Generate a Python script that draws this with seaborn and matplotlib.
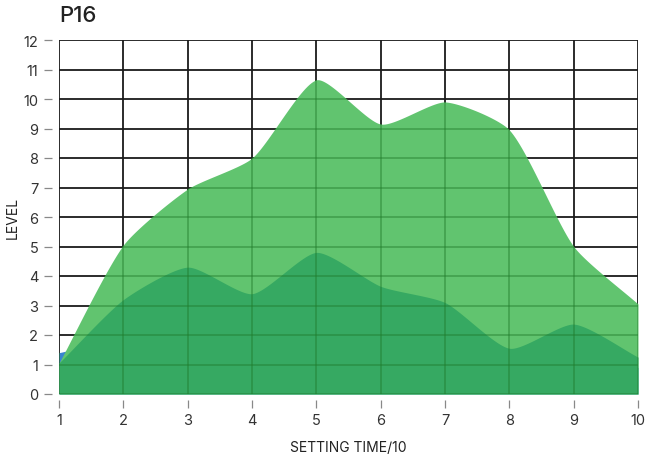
import numpy as np
import matplotlib
matplotlib.use("Agg")
import matplotlib.pyplot as plt
from matplotlib.patches import PathPatch
from matplotlib.path import Path
import seaborn as sns

# ---------------------------------------------------------------------
# data
# ---------------------------------------------------------------------
setting_time = [1, 2, 3, 4, 5, 6, 7, 8, 9, 10]
level_blue = [1.40, 1.90, 2.40, 2.30, 3.00, 2.60, 2.20, 1.00, 1.50, 0.90]
level_light = [1.05, 5.05, 6.95, 8.00, 10.65, 9.15, 9.90, 8.95, 5.00, 3.05]
level_dark = [1.05, 3.20, 4.30, 3.40, 4.80, 3.65, 3.10, 1.55, 2.37, 1.25]

series = [
    ("blue", level_blue, "#3a84cf"),
    ("light", level_light, "#61c46f"),
    ("dark", level_dark, "#36a962"),
]

PX_X, PX_Y = 64.3, 29.5   # pixels par unité (pour le lissage)


def spline_curve(x, y, tension=0.22, n=30):
    """Courbe de Bézier type 'cardinal' (calculée en espace pixel)."""
    p = np.column_stack([np.asarray(x, float) * PX_X, np.asarray(y, float) * PX_Y])
    cps = []
    for i in range(len(p)):
        prev = p[max(i - 1, 0)]; cur = p[i]; nxt = p[min(i + 1, len(p) - 1)]
        d01 = np.hypot(*(cur - prev)); d12 = np.hypot(*(nxt - cur))
        tot = d01 + d12 if d01 + d12 > 0 else 1
        fa = tension * d01 / tot * 2; fb = tension * d12 / tot * 2
        cps.append((cur - fa * (nxt - prev) / 2, cur + fb * (nxt - prev) / 2))
    pts = []
    t = np.linspace(0, 1, n, endpoint=False)[:, None]
    for i in range(len(p) - 1):
        a, b = p[i], cps[i][1]
        c, d = cps[i + 1][0], p[i + 1]
        pts.append((1 - t)**3 * a + 3 * (1 - t)**2 * t * b + 3 * (1 - t) * t**2 * c + t**3 * d)
    pts.append(p[-1:])
    pts = np.vstack(pts)
    return pts[:, 0] / PX_X, np.clip(pts[:, 1] / PX_Y, 0, None)


sns.set_theme(style="white")
plt.rcParams["font.family"] = ["Inter", "DejaVu Sans"]

fig = plt.figure(figsize=(6.49, 4.56), dpi=100)
ax = fig.add_axes([59 / 649, 1 - 395 / 456, 579 / 649, 354 / 456])

# grille noire sur fond blanc
for xv in setting_time:
    ax.axvline(xv, color="#1a1a1a", lw=1.3, zorder=0)
for yv in range(0, 13):
    ax.axhline(yv, color="#1a1a1a", lw=1.3, zorder=0)

curves = []
for i, (name, vals, col) in enumerate(series):
    xs, ys = spline_curve(setting_time, vals)
    curves.append((xs, ys))
    ax.fill_between(xs, 0, ys, color=col, lw=0, zorder=1 + i)

# grille vert foncé par-dessus les aires (découpée à l'enveloppe des aires)
xs_env = curves[0][0]
ys_env = np.maximum.reduce([np.interp(xs_env, cx, cy) for cx, cy in curves])
verts = np.vstack([[xs_env[0], 0], np.column_stack([xs_env, ys_env]), [xs_env[-1], 0], [xs_env[0], 0]])
clip = PathPatch(Path(verts), transform=ax.transData, facecolor="none", edgecolor="none")
ax.add_patch(clip)
for xv in setting_time:
    ln = ax.axvline(xv, color="#1f7a2a", alpha=0.45, lw=1.3, zorder=5)
    ln.set_clip_path(clip)
for yv in range(0, 13):
    ln = ax.axhline(yv, color="#1f7a2a", alpha=0.45, lw=1.3, zorder=5)
    ln.set_clip_path(clip)

ax.set_xlim(1, 10)
ax.set_ylim(0, 12)
ax.set_xticks(setting_time)
ax.set_yticks(range(0, 13))

for side in ["top", "right", "left", "bottom"]:
    ax.spines[side].set_visible(False)
ax.spines["left"].set_position(("outward", 5))
ax.spines["bottom"].set_position(("outward", 4))
ax.tick_params(axis="both", which="both", direction="out", length=6, width=0.9,
               color="#888888", labelcolor="#333333", labelsize=10.5, pad=4)
ax.tick_params(left=True, bottom=True)

ax.set_xlabel("SETTING TIME/10", fontsize=10, color="#222222")
ax.set_ylabel("LEVEL", fontsize=10, color="#222222")
ax.xaxis.set_label_coords(0.5, (395 - 448) / 354, transform=ax.transAxes)
ax.yaxis.set_label_coords((13 - 59) / 579, 0.5, transform=ax.transAxes)
ax.xaxis.label.set_va("center")
ax.yaxis.label.set_va("center")

fig.text(59 / 649, 1 - 16 / 456, "P16", fontsize=16, fontweight="medium",
         color="#222222", ha="left", va="center")

fig.savefig("out.png", dpi=100)
